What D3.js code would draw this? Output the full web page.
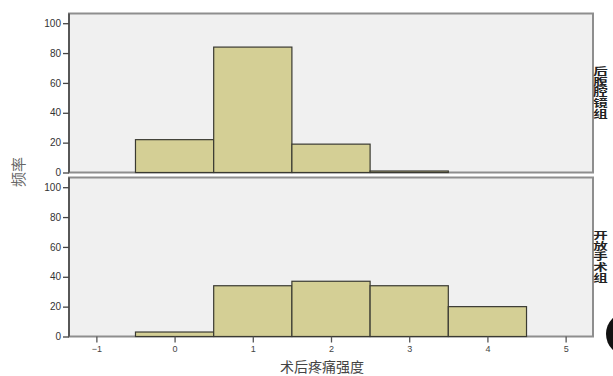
<!DOCTYPE html>
<html>
<head>
<meta charset="utf-8">
<script src="https://cdn.jsdelivr.net/npm/d3@7"></script>
<style>
  html, body { margin: 0; padding: 0; background: #fff; }
  svg { display: block; }
</style>
</head>
<body>
<svg id="chart" width="613" height="376"></svg>
<script>
// ---- data ----
const categories = [0, 1, 2, 3, 4];
const groupNames = ["后腹腔镜组", "开放手术组"];
const laparoscopicCounts = [22, 84, 19, 1, 0];
const openSurgeryCounts = [3, 34, 37, 34, 20];
const xTickValues = [-1, 0, 1, 2, 3, 4, 5];
const yTickValues = [0, 20, 40, 60, 80, 100];
const xTitle = "术后疼痛强度";
const yTitle = "频率";

const svg = d3.select("#chart");
const left = 69, right = 593;
const panels = [
  { name: groupNames[0], values: laparoscopicCounts, top: 13.5, bottom: 172.5 },
  { name: groupNames[1], values: openSurgeryCounts, top: 177.5, bottom: 336.5 }
];

const x = d3.scaleLinear().domain([-1.35, 5.35]).range([left, right]);
const font = "Liberation Sans, Arial, sans-serif";
const cjk = "'Noto Sans CJK SC', sans-serif";

panels.forEach((p, i) => {
  const y = d3.scaleLinear().domain([0, 106.5]).range([p.bottom, p.top]);
  const g = svg.append("g");
  // panel background
  g.append("rect")
    .attr("x", left).attr("y", p.top)
    .attr("width", right - left).attr("height", p.bottom - p.top)
    .attr("fill", "#f0f0f0")
    .attr("stroke", "#8e8e8e").attr("stroke-width", 2);

  // bars
  g.selectAll("rect.bar").data(categories).enter().append("rect")
    .attr("class", "bar")
    .attr("x", d => x(d - 0.5))
    .attr("width", d => x(d + 0.5) - x(d - 0.5))
    .attr("y", (d, j) => y(p.values[j]))
    .attr("height", (d, j) => y(0) - y(p.values[j]))
    .attr("fill", "#d4cf95")
    .attr("stroke", "#3a3a32").attr("stroke-width", 1.2)
    .attr("display", (d, j) => p.values[j] > 0 ? null : "none");

  // y axis
  const ya = g.append("g")
    .attr("transform", `translate(${left},0)`)
    .call(d3.axisLeft(y).tickValues(yTickValues).tickSize(6).tickPadding(2));
  ya.select(".domain").attr("stroke", "#444").attr("stroke-width", 1.5)
    .attr("d", `M0,${p.top}V${p.bottom}`);
  ya.selectAll(".tick line").attr("stroke", "#444").attr("stroke-width", 1.3);
  ya.selectAll(".tick text").attr("fill", "#333")
    .style("font-family", font).style("font-size", "10px");

  // strip label (vertical text)
  const cy = (p.top + p.bottom) / 2;
  g.append("g")
    .attr("transform", `translate(600.5,${cy}) scale(1.45,1)`)
    .append("text")
    .attr("x", 0).attr("y", 0)
    .attr("text-anchor", "middle")
    .attr("fill", "#222")
    .style("writing-mode", "vertical-rl")
    .style("letter-spacing", "0.7px")
    .style("font-family", cjk).style("font-size", "10px").style("font-weight", "bold")
    .text(p.name);

  if (i === 1) {
    const xa = svg.append("g")
      .attr("transform", `translate(0,${p.bottom})`)
      .call(d3.axisBottom(x).tickValues(xTickValues).tickSize(6).tickPadding(3).tickFormat(d3.format("d")));
    xa.select(".domain").remove();
    xa.selectAll(".tick line").attr("stroke", "#555").attr("stroke-width", 1.3);
    xa.selectAll(".tick text").attr("fill", "#444")
      .style("font-family", font).style("font-size", "9px");
  }
});

// axis titles
svg.append("text")
  .attr("transform", "translate(19,172) rotate(-90)")
  .attr("text-anchor", "middle").attr("dy", "0.36em")
  .attr("fill", "#666")
  .style("font-family", cjk).style("font-size", "15px")
  .text(yTitle);

svg.append("text")
  .attr("x", 322).attr("y", 367)
  .attr("text-anchor", "middle").attr("dy", "0.36em")
  .attr("fill", "#444")
  .style("font-family", cjk).style("font-size", "14px")
  .text(xTitle);

// partially visible dark marker at the right edge of the image
svg.append("circle")
  .attr("cx", 628).attr("cy", 334).attr("r", 22)
  .attr("fill", "#111");
</script>
</body>
</html>
